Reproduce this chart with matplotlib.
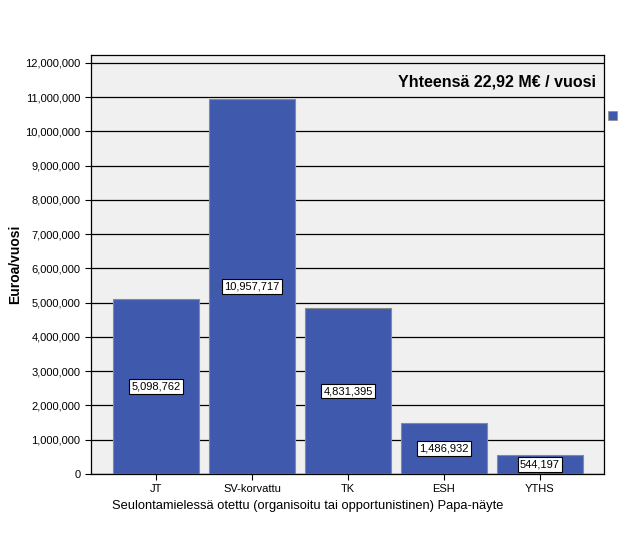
import matplotlib.pyplot as plt
from matplotlib.ticker import FuncFormatter

plt.rcParams['font.family'] = ['Liberation Sans', 'DejaVu Sans']

# Dados
kategoriat = ['JT', 'SV-korvattu', 'TK', 'ESH', 'YTHS']
euroa = [5098762, 10957717, 4831395, 1486932, 544197]
yhteensa = 'Yhteensä 22,92 M€ / vuosi'

fig = plt.figure(figsize=(6.25, 5.6), dpi=100)
ax = fig.add_axes([91 / 625, 1 - 474 / 560, 513 / 625, 419 / 560])
ax.set_facecolor('#f0f0f0')

x = list(range(len(kategoriat)))
ax.bar(x, euroa, width=0.896, color='#3f5aad', edgecolor='#8a8a8a', linewidth=0.8, zorder=3)

for xi, v in zip(x, euroa):
    ax.text(xi, v / 2, f'{v:,}', ha='center', va='center', fontsize=8, zorder=4,
            bbox=dict(boxstyle='square,pad=0.2', fc='white', ec='black', lw=0.8))

ax.set_xlim(-0.677, 4.667)
ax.set_ylim(0, 12.23e6)
ax.set_yticks(range(0, 12000001, 1000000))
ax.yaxis.set_major_formatter(FuncFormatter(lambda v, p: f'{int(v):,}'))
ax.set_xticks(x)
ax.set_xticklabels(kategoriat)
ax.tick_params(labelsize=8, length=4, color='black')
ax.grid(axis='y', color='black', linewidth=0.9, zorder=1)
for s in ax.spines.values():
    s.set_linewidth(0.9)

fig.text(15 / 625, 1 - 264 / 560, 'Euroa/vuosi', rotation=90, ha='center', va='center',
         fontsize=10, fontweight='bold')
fig.text(308 / 625, 1 - 506 / 560, 'Seulontamielessä otettu (organisoitu tai opportunistinen) Papa-näyte',
         ha='center', va='center', fontsize=9.3)
ax.text(0.985, 0.935, yhteensa, transform=ax.transAxes, ha='right', va='center',
        fontsize=11.5, fontweight='bold', zorder=5)

# pieni selitemerkki
fig.patches.append(plt.Rectangle((608 / 625, 1 - 120 / 560), 9 / 625, 9 / 560,
                                 transform=fig.transFigure, fc='#3f5aad', ec='#8a8a8a', lw=0.5))

fig.savefig('out.png', dpi=100)
